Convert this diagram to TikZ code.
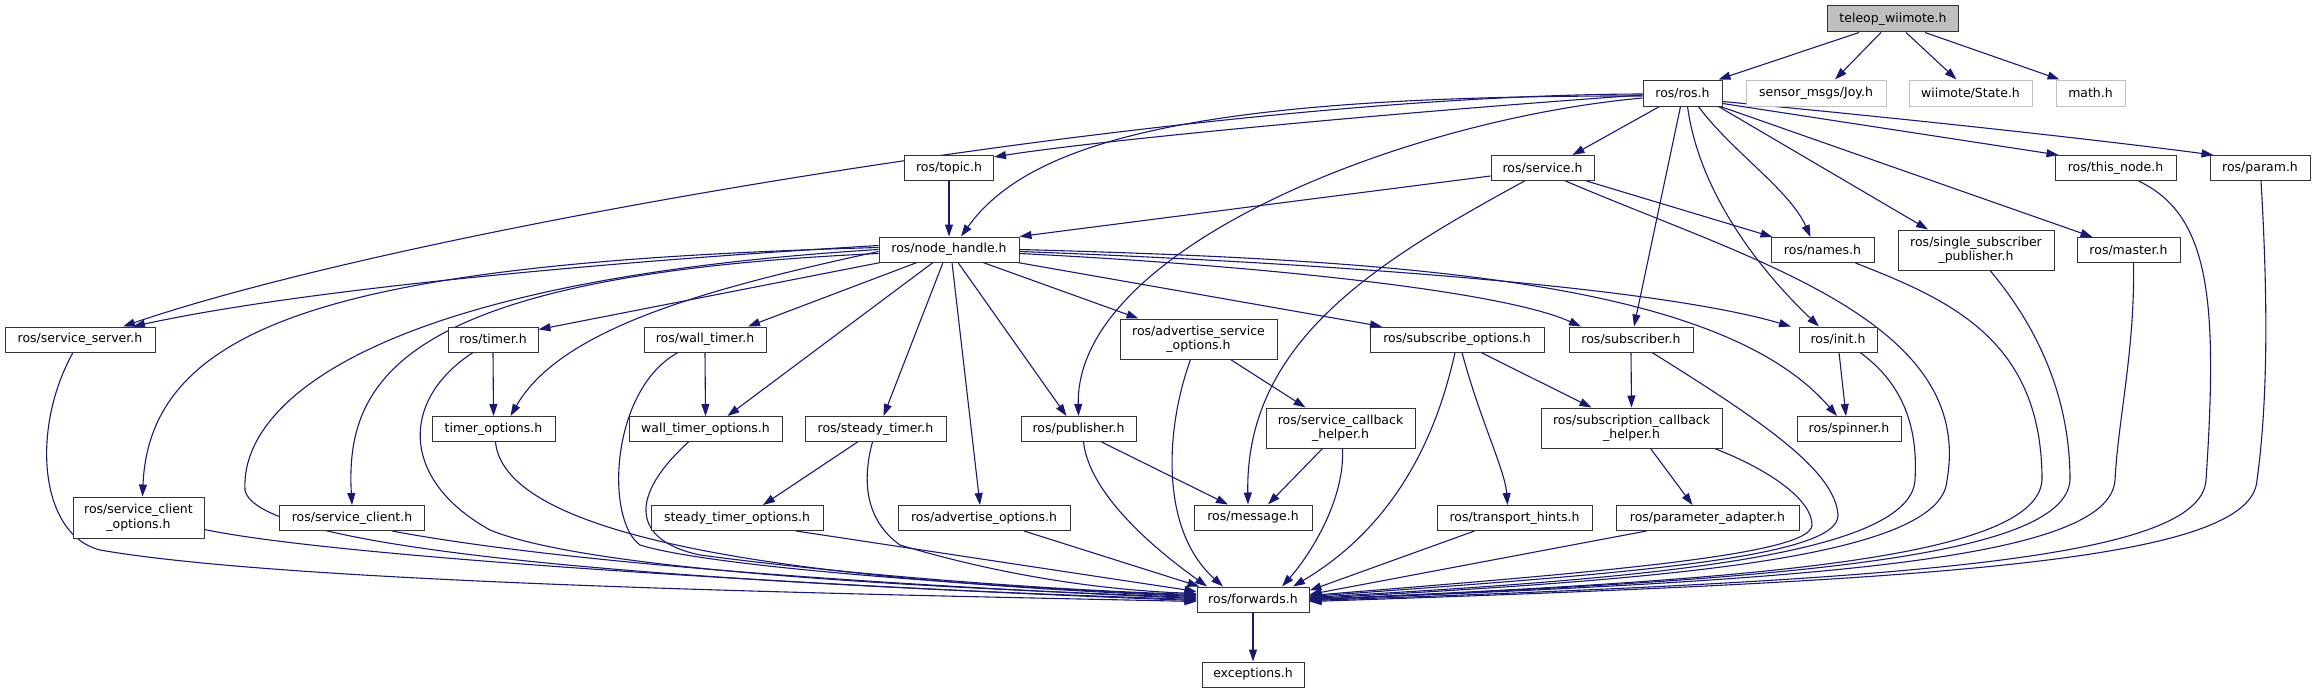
\documentclass[tikz,border=0pt]{standalone}
\usepackage{fontspec}
\newfontfamily\djfont{DejaVu Sans}
\usetikzlibrary{arrows.meta}
\definecolor{eb}{HTML}{191970}
\pgfdeclarelayer{bg}
\pgfsetlayers{bg,main}
\begin{document}
\begin{tikzpicture}[x=1pt,y=-1pt,
 box/.style={draw=black!80,line width=1pt,fill=white,inner sep=0pt,minimum height=25pt,font={\djfont\fontsize{12.5pt}{14.5pt}\selectfont},align=center},
 gbox/.style={box,draw=black!25},
 e/.style={draw=eb,line width=1.1pt,-{Triangle[length=12pt,width=8pt]}}]
\useasboundingbox (0,0) rectangle (2315,693);
% nodes
\node[box,fill=black!25,minimum width=131pt,minimum height=26pt] (teleop) at (1893,19) {teleop\_wiimote.h};
\node[box,minimum width=79pt,minimum height=26pt] (ros) at (1682.5,93) {ros/ros.h};
\node[gbox,minimum width=140pt,minimum height=26pt] (joy) at (1816,93) {sensor\_msgs/Joy.h};
\node[gbox,minimum width=123pt,minimum height=26pt] (state) at (1970.5,93) {wiimote/State.h};
\node[gbox,minimum width=69pt,minimum height=26pt] (math) at (2090.5,93) {math.h};
\node[box,minimum width=89pt] (topic) at (949,168) {ros/topic.h};
\node[box,minimum width=103pt] (service) at (1542.5,168) {ros/service.h};
\node[box,minimum width=121pt] (thisnode) at (2115.5,168) {ros/this\_node.h};
\node[box,minimum width=100pt] (param) at (2260,168) {ros/param.h};
\node[box,minimum width=140pt] (nh) at (949,249.5) {ros/node\_handle.h};
\node[box,minimum width=103pt] (names) at (1822.5,250) {ros/names.h};
\node[box,minimum width=156pt,minimum height=40pt] (ssp) at (1976,250) {ros/single\_subscriber\\\_publisher.h};
\node[box,minimum width=103pt] (master) at (2128.5,250) {ros/master.h};
\node[box,minimum width=150pt] (ssrv) at (80,339.5) {ros/service\_server.h};
\node[box,minimum width=90pt] (timer) at (493,339.5) {ros/timer.h};
\node[box,minimum width=122pt] (wtimer) at (705,339.5) {ros/wall\_timer.h};
\node[box,minimum width=157pt,minimum height=40pt] (aso) at (1198.5,339) {ros/advertise\_service\\\_options.h};
\node[box,minimum width=174pt] (subopt) at (1457,339.5) {ros/subscribe\_options.h};
\node[box,minimum width=124pt] (subscriber) at (1631,339.5) {ros/subscriber.h};
\node[box,minimum width=78pt] (init) at (1838,339.5) {ros/init.h};
\node[box,minimum width=123pt] (topt) at (493.5,429) {timer\_options.h};
\node[box,minimum width=153pt] (wtopt) at (705.5,429) {wall\_timer\_options.h};
\node[box,minimum width=141pt] (stimer) at (875.5,429) {ros/steady\_timer.h};
\node[box,minimum width=115pt] (pub) at (1078.5,429) {ros/publisher.h};
\node[box,minimum width=149pt,minimum height=40pt] (scbh) at (1340.5,428) {ros/service\_callback\\\_helper.h};
\node[box,minimum width=181pt,minimum height=40pt] (subcbh) at (1631.5,428) {ros/subscription\_callback\\\_helper.h};
\node[box,minimum width=104pt] (spinner) at (1849,429) {ros/spinner.h};
\node[box,minimum width=131pt,minimum height=41pt] (sco) at (138.5,517.5) {ros/service\_client\\\_options.h};
\node[box,minimum width=145pt] (sclient) at (352,518) {ros/service\_client.h};
\node[box,minimum width=172pt] (stopt) at (737,518) {steady\_timer\_options.h};
\node[box,minimum width=172pt] (advopt) at (984,518) {ros/advertise\_options.h};
\node[box,minimum width=118pt] (message) at (1253,517.5) {ros/message.h};
\node[box,minimum width=155pt] (transport) at (1514.5,518) {ros/transport\_hints.h};
\node[box,minimum width=183pt] (padapter) at (1707.5,518) {ros/parameter\_adapter.h};
\node[box,minimum width=112pt] (fwd) at (1253,599.5) {ros/forwards.h};
\node[box,minimum width=102pt] (exc) at (1253,674.5) {exceptions.h};
\begin{pgfonlayer}{bg}
% teleop
\draw[e] ([xshift=-34pt]teleop.south) -- ([xshift=36pt]ros.north);
\draw[e] ([xshift=-12pt]teleop.south) -- ([xshift=19pt]joy.north);
\draw[e] ([xshift=13pt]teleop.south) -- ([xshift=-14pt]state.north);
\draw[e] ([xshift=32pt]teleop.south) -- ([xshift=-31pt]math.north);
% ros
\draw[e] ([yshift=-2pt]ros.west) .. controls (1400,112) and (1100,140) .. ([yshift=-2pt]topic.north east);
\draw[e] ([yshift=-3pt]ros.west) .. controls (1200,95) and (1030,140) .. ([xshift=12pt]nh.north);
\draw[e] ([yshift=-1pt]ros.west) .. controls (1200,95) and (420,225) .. ([xshift=43pt]ssrv.north);
\draw[e] ([yshift=-5pt]ros.west) .. controls (1400,120) and (1075,250) .. (pub.north);
\draw[e] ([xshift=-23pt]ros.south) -- ([xshift=30pt]service.north);
\draw[e] ([xshift=-2pt]ros.south) -- ([xshift=3pt]subscriber.north);
\draw[e] ([xshift=5pt]ros.south) .. controls (1700,200) and (1770,280) .. ([xshift=-19pt]init.north);
\draw[e] ([xshift=16pt]ros.south) .. controls (1730,150) and (1790,190) .. ([xshift=-12pt]names.north);
\draw[e] ([xshift=36pt]ros.south) -- ([xshift=-48pt]ssp.north);
\draw[e] ([xshift=-2pt]ros.south east) -- ([xshift=-36pt]master.north);
\draw[e] ([yshift=3pt]ros.south east) -- ([xshift=4pt]thisnode.north west);
\draw[e] ([yshift=5pt]ros.south east) .. controls (1900,118) and (2100,140) .. ([xshift=4pt]param.north west);
% topic, service
\draw[e] (topic.south) -- (nh.north);
\draw[e] ([yshift=-8pt]service.west) -- (nh.north east);
\draw[e] ([xshift=44pt]service.south) -- ([xshift=2pt]names.north west);
\draw[e] ([xshift=-18pt]service.south) .. controls (1380,260) and (1245,340) .. ([xshift=-5pt]message.north);
\draw[e] ([xshift=23pt]service.south) .. controls (1750,260) and (1975,320) .. (1947,480) .. controls (1942,560) and (1650,580) .. ([yshift=1pt]fwd.east);
% right group to forwards
\draw[e] ([xshift=33pt]names.south) .. controls (1950,300) and (2042,340) .. (2042,480) .. controls (2037,560) and (1745,580) .. (fwd.east);
\draw[e] ([xshift=14pt]ssp.south) .. controls (2040,330) and (2070,400) .. (2070,480) .. controls (2065,560) and (1770,580) .. (fwd.east);
\draw[e] ([xshift=5pt]master.south) .. controls (2135,350) and (2118,420) .. (2115,480) .. controls (2110,560) and (1815,580) .. (fwd.east);
\draw[e] ([xshift=23pt]thisnode.south) .. controls (2210,215) and (2218,300) .. (2206,480) .. controls (2201,560) and (1906,580) .. ([yshift=-1pt]fwd.east);
\draw[e] ([xshift=1pt]param.south) .. controls (2268,300) and (2268,400) .. (2257,480) .. controls (2252,560) and (1957,580) .. ([yshift=-2pt]fwd.east);
\draw[e] ([xshift=22pt]init.south) .. controls (1905,385) and (1918,430) .. (1915,480) .. controls (1910,560) and (1615,580) .. ([yshift=2pt]fwd.east);
\draw[e] ([xshift=21pt]subscriber.south) .. controls (1760,420) and (1835,470) .. (1838,515) .. controls (1840,560) and (1600,575) .. ([yshift=3pt]fwd.east);
\draw[e] ([xshift=83pt]subcbh.south) .. controls (1770,470) and (1812,500) .. (1812,525) .. controls (1812,555) and (1600,572) .. ([yshift=4pt]fwd.east);
\draw[e] ([xshift=-61pt]padapter.south) -- ([yshift=5pt]fwd.east);
\draw[e] ([xshift=-40pt]transport.south) -- ([yshift=9pt]fwd.east);
% middle
\draw[e] ([xshift=2pt]scbh.south) .. controls (1345,500) and (1310,555) .. ([xshift=29pt]fwd.north);
\draw[e] ([xshift=-2pt]subopt.south) .. controls (1440,420) and (1405,520) .. ([xshift=40pt]fwd.north);
\draw[e] ([xshift=-18pt]scbh.south) -- ([xshift=15pt]message.north);
\draw[e] ([xshift=23pt]pub.south) -- ([xshift=-25pt]message.north);
\draw[e] ([xshift=5pt]pub.south) .. controls (1090,500) and (1170,560) .. ([xshift=-46pt]fwd.north);
\draw[e] ([xshift=-8pt]aso.south) .. controls (1165,430) and (1160,530) .. ([xshift=-30pt]fwd.north);
\draw[e] ([xshift=32pt]aso.south) -- ([xshift=-35pt]scbh.north);
\draw[e] ([xshift=24pt]subopt.south) -- ([xshift=-40pt]subcbh.north);
\draw[e] ([xshift=5pt]subopt.south) .. controls (1480,420) and (1505,470) .. ([xshift=-7pt]transport.north);
\draw[e] (subscriber.south) -- (subcbh.north);
\draw[e] ([xshift=19pt]subcbh.south) -- ([xshift=-15pt]padapter.north);
\draw[e] ([xshift=1pt]init.south) -- ([xshift=-3pt]spinner.north);
\draw[e] (fwd.south) -- (exc.north);
% left group to forwards
\draw[e] ([xshift=-7pt]ssrv.south) .. controls (30,430) and (40,535) .. (100,550) .. controls (300,585) and (900,595) .. ([yshift=-2pt]fwd.west);
\draw[e] ([yshift=-12pt]sco.east) .. controls (350,560) and (900,590) .. ([yshift=-1pt]fwd.west);
\draw[e] (nh.west) .. controls (380,280) and (240,400) .. (245,490) .. controls (255,545) and (600,580) .. (fwd.west);
\draw[e] ([xshift=40pt]sclient.south) .. controls (600,570) and (1000,590) .. ([yshift=1pt]fwd.west);
\draw[e] ([xshift=-20pt]timer.south) .. controls (400,400) and (400,480) .. (490,530) .. controls (600,575) and (1000,590) .. ([yshift=2pt]fwd.west);
\draw[e] ([xshift=2pt]topt.south) .. controls (505,540) and (800,580) .. ([yshift=3pt]fwd.west);
\draw[e] ([xshift=-27pt]wtimer.south) .. controls (610,390) and (605,520) .. (640,545) .. controls (720,570) and (1050,590) .. ([yshift=4pt]fwd.west);
\draw[e] ([xshift=-17pt]wtopt.south) .. controls (630,495) and (630,540) .. (700,555) .. controls (850,575) and (1050,590) .. ([yshift=5pt]fwd.west);
\draw[e] ([xshift=-3pt]stimer.south) .. controls (862,480) and (865,520) .. (900,545) .. controls (1000,575) and (1100,590) .. ([yshift=6pt]fwd.west);
\draw[e] ([xshift=59pt]stopt.south) -- ([yshift=8pt]fwd.west);
\draw[e] ([xshift=40pt]advopt.south) -- ([xshift=3pt]fwd.north west);
% node_handle edges
\draw[e] ([yshift=4pt]nh.west) .. controls (600,262) and (300,290) .. ([xshift=53pt]ssrv.north);
\draw[e] ([yshift=2pt]nh.west) .. controls (350,262) and (150,320) .. ([xshift=4pt]sco.north);
\draw[e] ([yshift=-4pt]nh.west) .. controls (400,275) and (345,380) .. (sclient.north);
\draw[e] ([xshift=2pt]nh.south west) -- ([yshift=-3pt]timer.north east);
\draw[e] ([yshift=-2pt]nh.west) .. controls (700,290) and (560,330) .. ([xshift=17pt]topt.north);
\draw[e] ([xshift=-32pt]nh.south) -- ([xshift=43pt]wtimer.north);
\draw[e] ([xshift=-16pt]nh.south) -- ([xshift=22pt]wtopt.north);
\draw[e] ([xshift=-6pt]nh.south) -- ([xshift=8pt]stimer.north);
\draw[e] ([xshift=3pt]nh.south) -- ([xshift=-4pt]advopt.north);
\draw[e] ([xshift=9pt]nh.south) -- ([xshift=-12pt]pub.north);
\draw[e] ([xshift=34pt]nh.south) -- ([xshift=-60pt]aso.north);
\draw[e] ([xshift=-2pt]nh.south east) -- ([xshift=-75pt]subopt.north);
\draw[e] ([yshift=-4pt]nh.east) .. controls (1250,265) and (1500,290) .. ([xshift=-50pt]subscriber.north);
\draw[e] ([yshift=-2pt]nh.east) .. controls (1300,262) and (1650,285) .. ([xshift=-47pt]init.north);
\draw[e] (nh.east) .. controls (1400,260) and (1720,280) .. ([xshift=-12pt]spinner.north);
\draw[e] (timer.south) -- (topt.north);
\draw[e] (wtimer.south) -- (wtopt.north);
\draw[e] ([xshift=-18pt]stimer.south) -- ([xshift=26pt]stopt.north);
\end{pgfonlayer}
\end{tikzpicture}
\end{document}
